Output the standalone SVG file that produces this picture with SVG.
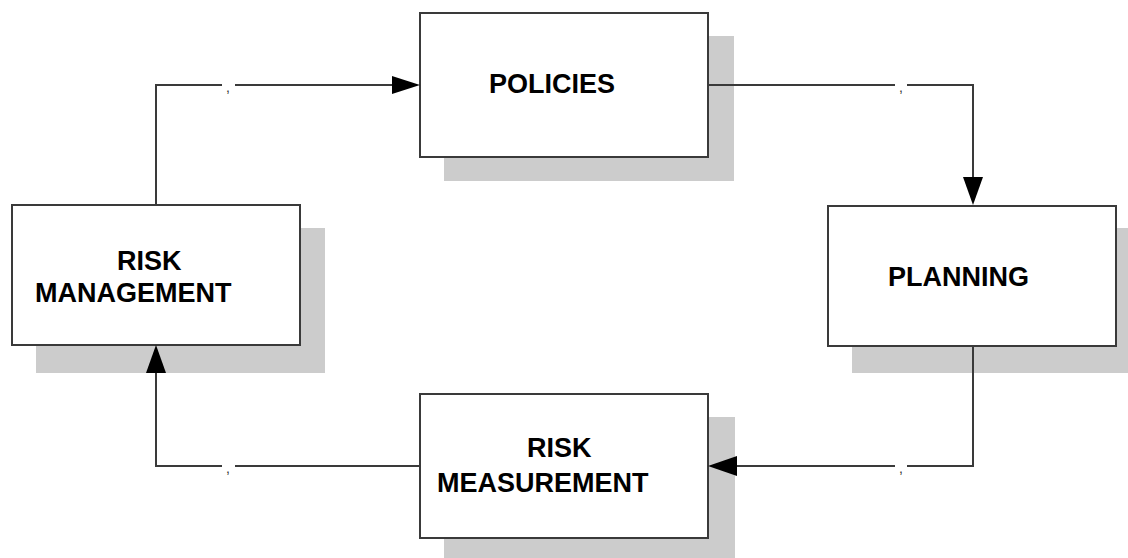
<svg xmlns="http://www.w3.org/2000/svg" width="1128" height="558" viewBox="0 0 1128 558">
<style>
.shadow{fill:#cccccc;}
.box{fill:#ffffff;stroke:#3a3a3a;stroke-width:2;}
.lbl{font-family:"Liberation Sans",Arial,sans-serif;font-weight:bold;font-size:27px;fill:#000000;}
.line{fill:none;stroke:#3a3a3a;stroke-width:2;}
.tick{font-family:"Liberation Sans",Arial,sans-serif;font-size:14px;fill:#333333;}
.head{fill:#000000;}
</style>
<rect width="1128" height="558" fill="#ffffff"/>
<g id="policies">
<rect class="shadow" x="444" y="36" width="290" height="145"/>
<rect class="box" x="420" y="13" width="288" height="144"/>
<text class="lbl" x="489" y="93">POLICIES</text>
</g>
<g id="planning">
<rect class="shadow" x="852" y="228" width="276" height="145"/>
<rect class="box" x="828" y="206" width="288" height="140"/>
<text class="lbl" x="888" y="286">PLANNING</text>
</g>
<g id="risk-measurement">
<rect class="shadow" x="444" y="417" width="291" height="141"/>
<rect class="box" x="420" y="394" width="288" height="144"/>
<text class="lbl" x="527" y="457">RISK</text>
<text class="lbl" x="437" y="492">MEASUREMENT</text>
</g>
<g id="risk-management">
<rect class="shadow" x="36" y="228" width="289" height="145"/>
<rect class="box" x="12" y="205" width="288" height="140"/>
<text class="lbl" x="117" y="270">RISK</text>
<text class="lbl" x="35" y="302">MANAGEMENT</text>
</g>
<g id="connectors">
<polyline class="line" points="156,205 156,85 222,85"/>
<line class="line" x1="235" y1="85" x2="394" y2="85"/>
<polygon class="head" points="420,85 392,76 392,94"/>
<text class="tick" x="226" y="92">,</text>

<polyline class="line" points="708,85 895,85"/>
<polyline class="line" points="907,85 973,85 973,180"/>
<polygon class="head" points="973,205 963,177 983,177"/>
<text class="tick" x="899" y="92">,</text>

<polyline class="line" points="973,346 973,466 907,466"/>
<line class="line" x1="895" y1="466" x2="735" y2="466"/>
<polygon class="head" points="708,466 737,456 737,476"/>
<text class="tick" x="899" y="473">,</text>

<polyline class="line" points="420,466 235,466"/>
<polyline class="line" points="222,466 156,466 156,371"/>
<polygon class="head" points="156,345 146,373 166,373"/>
<text class="tick" x="226" y="473">,</text>
</g>
</svg>
